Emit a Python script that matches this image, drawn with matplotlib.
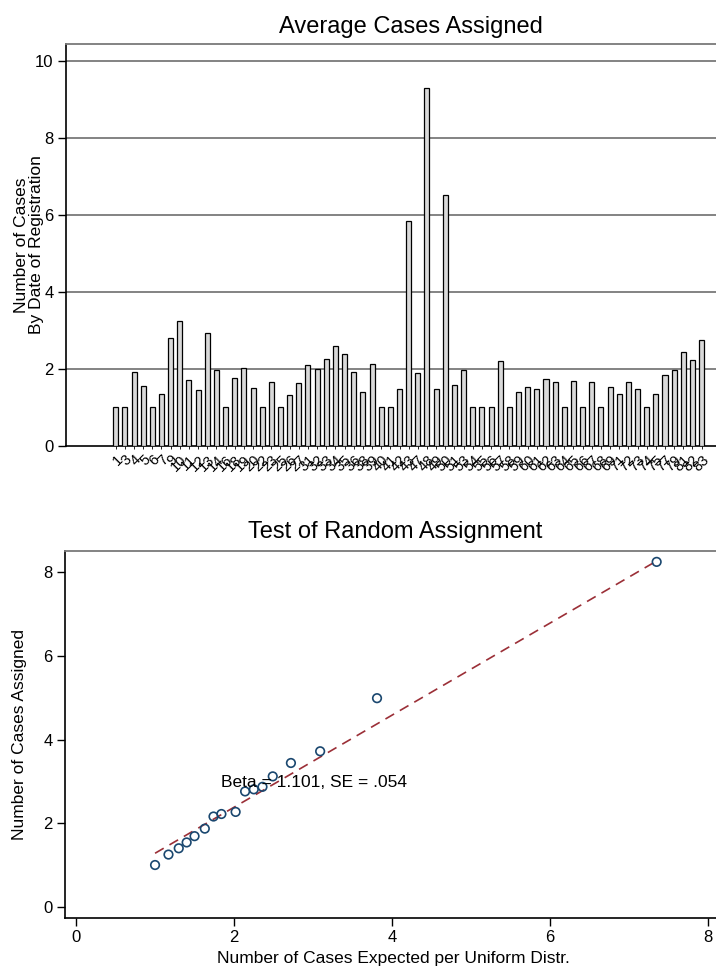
import matplotlib
matplotlib.use("Agg")
import matplotlib.pyplot as plt
import numpy as np

plt.rcParams["font.family"] = ["Liberation Sans", "DejaVu Sans"]

# Top panel: average cases by registration date
date_labels = [
    "1", "3", "4", "5", "6", "7", "9", "10", "11", "12", "13", "14", "16",
    "18", "19", "20", "22", "23", "25", "26", "27", "31", "32", "33", "34",
    "35", "36", "38", "39", "40", "41", "42", "43", "47", "48", "49", "50",
    "51", "53", "54", "55", "56", "57", "58", "59", "60", "61", "62", "63",
    "64", "65", "66", "67", "68", "69", "71", "72", "73", "74", "75", "77",
    "79", "81", "82", "83",
]
avg_cases = [
    1.0, 1.0, 1.93, 1.56, 1.0, 1.36, 2.81, 3.24, 1.70, 1.44, 2.92, 1.98,
    1.0, 1.76, 2.03, 1.51, 1.0, 1.66, 1.0, 1.33, 1.63, 2.10, 1.99, 2.27,
    2.60, 2.39, 1.92, 1.39, 2.13, 1.0, 1.0, 1.49, 5.85, 1.89, 9.29, 1.49,
    6.52, 1.58, 1.98, 1.0, 1.0, 1.0, 2.20, 1.0, 1.39, 1.53, 1.48, 1.73,
    1.65, 1.0, 1.69, 1.0, 1.65, 1.0, 1.52, 1.34, 1.67, 1.48, 1.0, 1.36,
    1.85, 1.98, 2.43, 2.22, 2.75,
]
top_yticks = [0, 2, 4, 6, 8, 10]

# Bottom panel: expected vs assigned
expected = [1.00, 1.17, 1.30, 1.40, 1.50, 1.63, 1.74, 1.84, 2.02, 2.14,
            2.25, 2.36, 2.49, 2.72, 3.09, 3.81, 7.35]
assigned = [1.00, 1.25, 1.40, 1.54, 1.69, 1.87, 2.16, 2.22, 2.27, 2.76,
            2.81, 2.87, 3.12, 3.44, 3.72, 4.99, 8.25]
fit_const = 0.18
fit_beta = 1.101
fit_note = "Beta = 1.101, SE = .054"
bottom_ticks = [0, 2, 4, 6, 8]

W, H = 716, 972
fig = plt.figure(figsize=(W / 100, H / 100), dpi=100)
fig.patch.set_facecolor("white")

grid_c = "#7a7a7a"

# ---- top panel
ax1 = fig.add_axes([66 / W, 1 - 446 / H, (722 - 66) / W, (446 - 44) / H])
pos = np.arange(len(avg_cases))
ax1.bar(pos, avg_cases, width=0.55, color="#d9d9d9", edgecolor="black",
        linewidth=0.9, zorder=3)
ax1.set_xlim(-5.43, (722 - 115.7) / 9.155)
ax1.set_ylim(0, 10.43)
ax1.set_yticks(top_yticks)
ax1.set_yticklabels([str(t) for t in top_yticks], fontsize=12)
for t in top_yticks[1:]:
    ax1.axhline(t, color=grid_c, lw=1.3, zorder=1)
ax1.set_xticks(pos)
ax1.set_xticklabels(date_labels, rotation=45, ha="right",
                    rotation_mode="anchor", fontsize=10.5)
ax1.tick_params(axis="x", length=2.5, width=0.6, pad=2)
ax1.tick_params(axis="y", length=6, width=1, pad=3)
ax1.spines["right"].set_visible(False)
ax1.spines["top"].set_color(grid_c)
ax1.spines["top"].set_linewidth(1.3)
ax1.spines["left"].set_linewidth(1.2)
ax1.spines["bottom"].set_linewidth(1.2)
fig.text(411 / W, 1 - 27 / H, "Average Cases Assigned", ha="center",
         va="center", fontsize=17)
fig.text(29 / W, 1 - 245 / H, "Number of Cases\nBy Date of Registration",
         ha="center", va="center", rotation=90, fontsize=12.5,
         linespacing=1.05)

# ---- bottom panel
ax2 = fig.add_axes([65 / W, 1 - 917.7 / H, (722 - 65) / W, (917.7 - 551) / H])
ax2.scatter(expected, assigned, s=38, facecolors="none", edgecolors="#1a476f",
            linewidths=1.2, zorder=3)
xf = np.array([min(expected), max(expected)])
ax2.plot(xf, fit_const + fit_beta * xf, color="#9b2f37", lw=1.2,
         linestyle=(0, (6, 4)), zorder=2)
ax2.text(1.84, 2.97, fit_note, ha="left", va="center", fontsize=12.5, zorder=4)
ax2.set_xlim(-0.14, (722 - 76) / 79)
ax2.set_ylim(-0.26, 8.51)
ax2.set_xticks(bottom_ticks)
ax2.set_yticks(bottom_ticks)
ax2.set_xticklabels([str(t) for t in bottom_ticks], fontsize=12)
ax2.set_yticklabels([str(t) for t in bottom_ticks], fontsize=12)
ax2.tick_params(length=6, width=1, pad=3)
ax2.spines["right"].set_visible(False)
ax2.spines["top"].set_color(grid_c)
ax2.spines["top"].set_linewidth(1.3)
ax2.spines["left"].set_linewidth(1.2)
ax2.spines["bottom"].set_linewidth(1.2)
ax2.set_xlabel("Number of Cases Expected per Uniform Distr.", fontsize=12.5,
               labelpad=4)
fig.text(395 / W, 1 - 532 / H, "Test of Random Assignment", ha="center",
         va="center", fontsize=17)
fig.text(20 / W, 1 - 734 / H, "Number of Cases Assigned", ha="center",
         va="center", rotation=90, fontsize=12.5)

fig.savefig("out.png", dpi=100, facecolor="white")
